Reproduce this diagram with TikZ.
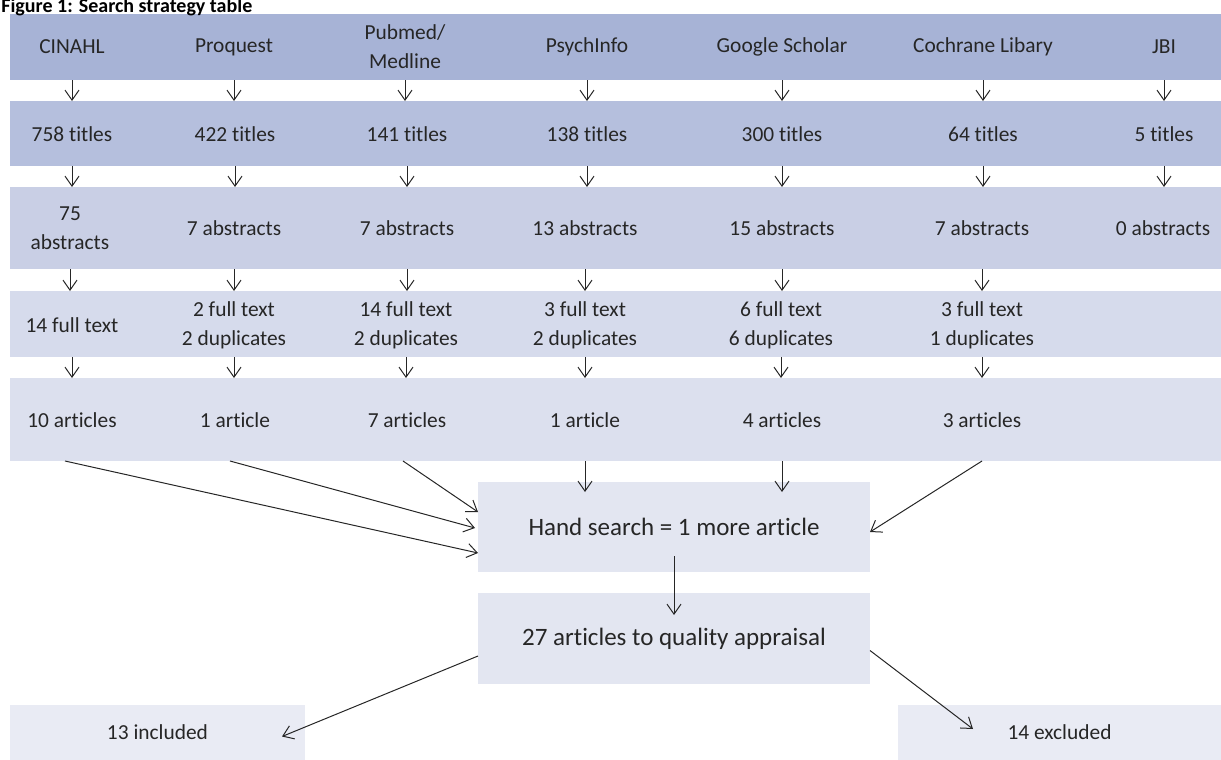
\documentclass[tikz,border=0pt]{standalone}
\usepackage{fontspec}
\setmainfont{Carlito}[Ligatures={NoCommon,NoRare,NoContextual}]
\usetikzlibrary{arrows.meta}

\definecolor{rowsrc}{HTML}{A7B3D6}
\definecolor{rowtit}{HTML}{B5BFDD}
\definecolor{rowabs}{HTML}{C9CFE5}
\definecolor{rowful}{HTML}{D6DBEC}
\definecolor{rowart}{HTML}{DCE0EE}
\definecolor{boxhand}{HTML}{E3E6F1}
\definecolor{boxend}{HTML}{E9EBF4}
\definecolor{ink}{HTML}{262626}

\tikzset{
  band/.style={fill=#1, draw=none, inner sep=0pt, outer sep=0pt, minimum width=605.5pt},
  cell/.style={text=ink, align=center, inner sep=0pt, font=\fontsize{10.7}{14.5}\selectfont},
  flowbox/.style={fill=#1, draw=none, inner sep=0pt, outer sep=0pt, text=ink},
  arr/.style={draw=ink, line width=0.5pt, -{Straight Barb[length=5pt,width=7pt]}},
}

\begin{document}
\begin{tikzpicture}[x=0.5pt, y=0.5pt]
\useasboundingbox (0,0) rectangle (1221,-760);
\clip (0,0) rectangle (1221,-760);

% Row bands
\node[band=rowsrc, minimum height=33pt] (band0) at (615.5,-47) {};
\node[band=rowtit, minimum height=32.5pt] (band1) at (615.5,-133.5) {};
\node[band=rowabs, minimum height=41pt] (band2) at (615.5,-228) {};
\node[band=rowful, minimum height=33pt] (band3) at (615.5,-324) {};
\node[band=rowart, minimum height=41.5pt] (band4) at (615.5,-419.5) {};

% Title
\node[anchor=base west, text=black, inner sep=0pt, font=\bfseries\fontsize{10}{12}\selectfont] (title) at (1,-12.5) {Figure 1: Search strategy table};

% Databases
\node[cell] (cinahl) at (72,-47) {CINAHL};
\node[cell] (proquest) at (234,-47) {Proquest};
\node[cell] (pubmed) at (405,-47) {Pubmed/\\Medline};
\node[cell] (psych) at (587,-47) {PsychInfo};
\node[cell] (google) at (782,-47) {Google Scholar};
\node[cell] (cochrane) at (983,-47) {Cochrane Libary};
\node[cell] (jbi) at (1164,-47) {JBI};

% Titles
\node[cell] (tit1) at (72,-134) {758 titles};
\node[cell] (tit2) at (235,-134) {422 titles};
\node[cell] (tit3) at (407,-134) {141 titles};
\node[cell] (tit4) at (587,-134) {138 titles};
\node[cell] (tit5) at (782,-134) {300 titles};
\node[cell] (tit6) at (983,-134) {64 titles};
\node[cell] (tit7) at (1164,-134) {5 titles};

% Abstracts
\node[cell] (abs1) at (70,-228) {75\\abstracts};
\node[cell] (abs2) at (234,-228) {7 abstracts};
\node[cell] (abs3) at (407,-228) {7 abstracts};
\node[cell] (abs4) at (585,-228) {13 abstracts};
\node[cell] (abs5) at (782,-228) {15 abstracts};
\node[cell] (abs6) at (982,-228) {7 abstracts};
\node[cell] (abs7) at (1163,-228) {0 abstracts};

% Full text
\node[cell] (ful1) at (72,-325) {14 full text};
\node[cell] (ful2) at (234,-325) {2 full text\\2 duplicates};
\node[cell] (ful3) at (406,-325) {14 full text\\2 duplicates};
\node[cell] (ful4) at (585,-325) {3 full text\\2 duplicates};
\node[cell] (ful5) at (781,-325) {6 full text\\6 duplicates};
\node[cell] (ful6) at (982,-325) {3 full text\\1 duplicates};

% Articles
\node[cell] (art1) at (72,-420) {10 articles};
\node[cell] (art2) at (235,-420) {1 article};
\node[cell] (art3) at (407,-420) {7 articles};
\node[cell] (art4) at (585,-420) {1 article};
\node[cell] (art5) at (782,-420) {4 articles};
\node[cell] (art6) at (982,-420) {3 articles};

% Lower boxes
\node[flowbox=boxhand, minimum width=196pt, minimum height=45pt, font=\fontsize{12.5}{15}\selectfont] (hand) at (674,-527) {Hand search = 1 more article};
\node[flowbox=boxhand, minimum width=196pt, minimum height=45.5pt, font=\fontsize{12.5}{15}\selectfont] (appr) at (674,-638.5) {27 articles to quality appraisal};
\node[flowbox=boxend, minimum width=147.5pt, minimum height=27.5pt, font=\fontsize{10.7}{13}\selectfont] (incl) at (157.5,-732.5) {13 included};
\node[flowbox=boxend, minimum width=161.5pt, minimum height=27.5pt, font=\fontsize{10.7}{13}\selectfont] (excl) at (1059.5,-732.5) {14 excluded};

% Databases -> titles
\draw[arr] (band0.south -| cinahl) -- (band1.north -| cinahl);
\draw[arr] (band0.south -| proquest) -- (band1.north -| proquest);
\draw[arr] (band0.south -| pubmed) -- (band1.north -| pubmed);
\draw[arr] (band0.south -| psych) -- (band1.north -| psych);
\draw[arr] (band0.south -| google) -- (band1.north -| google);
\draw[arr] (band0.south -| cochrane) -- (band1.north -| cochrane);
\draw[arr] (band0.south -| jbi) -- (band1.north -| jbi);

% Titles -> abstracts
\draw[arr] (band1.south -| tit1) -- (band2.north -| tit1);
\draw[arr] (band1.south -| tit2) -- (band2.north -| tit2);
\draw[arr] (band1.south -| tit3) -- (band2.north -| tit3);
\draw[arr] (band1.south -| tit4) -- (band2.north -| tit4);
\draw[arr] (band1.south -| tit5) -- (band2.north -| tit5);
\draw[arr] (band1.south -| tit6) -- (band2.north -| tit6);
\draw[arr] (band1.south -| tit7) -- (band2.north -| tit7);

% Abstracts -> full text
\draw[arr] (band2.south -| abs1) -- (band3.north -| abs1);
\draw[arr] (band2.south -| abs2) -- (band3.north -| abs2);
\draw[arr] (band2.south -| abs3) -- (band3.north -| abs3);
\draw[arr] (band2.south -| abs4) -- (band3.north -| abs4);
\draw[arr] (band2.south -| abs5) -- (band3.north -| abs5);
\draw[arr] (band2.south -| abs6) -- (band3.north -| abs6);

% Full text -> articles
\draw[arr] (band3.south -| ful1) -- (band4.north -| ful1);
\draw[arr] (band3.south -| ful2) -- (band4.north -| ful2);
\draw[arr] (band3.south -| ful3) -- (band4.north -| ful3);
\draw[arr] (band3.south -| ful4) -- (band4.north -| ful4);
\draw[arr] (band3.south -| ful5) -- (band4.north -| ful5);
\draw[arr] (band3.south -| ful6) -- (band4.north -| ful6);

% Articles -> hand search
\draw[arr] ([xshift=-3.5pt]band4.south -| art1) -- ([yshift=-13pt]hand.west);
\draw[arr] ([xshift=-2.5pt]band4.south -| art2) -- ([yshift=-0.5pt,xshift=-1.5pt]hand.west);
\draw[arr] ([xshift=-2pt]band4.south -| art3) -- ([yshift=7.5pt]hand.west);
\draw[arr, shorten >=-5pt] (band4.south -| art4) -- (hand.north -| art4);
\draw[arr, shorten >=-5pt] (band4.south -| art5) -- (hand.north -| art5);
\draw[arr] (band4.south -| art6) -- ([yshift=-2.5pt]hand.east);

% Hand search -> appraisal -> outcome
\draw[arr, shorten <=-8pt, shorten >=-11pt] (hand.south) -- (appr.north);
\draw[arr] ([yshift=-8.75pt]appr.west) -- ([xshift=-11.5pt,yshift=-2pt]incl.east);
\draw[arr] ([yshift=-6pt]appr.east) -- ([xshift=37.5pt,yshift=-12pt]excl.north west);
\end{tikzpicture}
\end{document}
